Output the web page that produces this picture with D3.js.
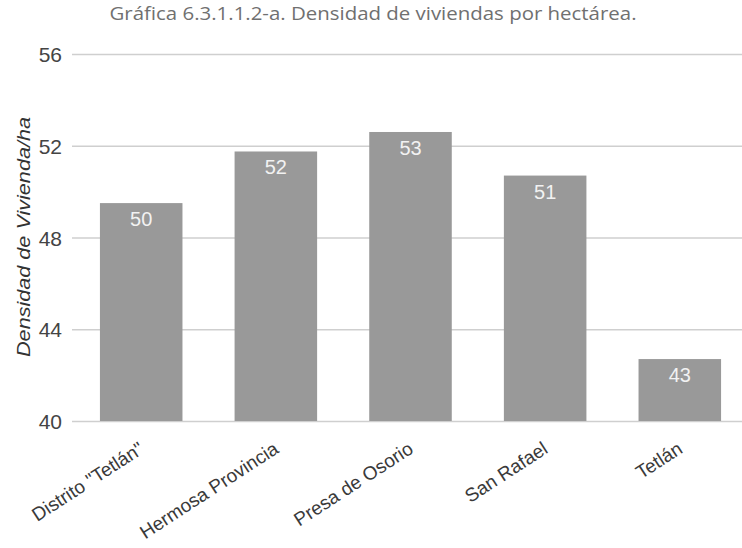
<!DOCTYPE html>
<html>
<head>
<meta charset="utf-8">
<script src="https://cdn.jsdelivr.net/npm/d3@7"></script>
<style>
  html, body { margin: 0; padding: 0; background: #fff; }
  svg { display: block; }
</style>
</head>
<body>
<script>
// Housing density per hectare by area
const categories = ["Distrito \"Tetlán\"", "Hermosa Provincia", "Presa de Osorio", "San Rafael", "Tetlán"];
const density = [49.5, 51.75, 52.6, 50.7, 42.7];
const yTicks = [40, 44, 48, 52, 56];
const titleText = "Gráfica 6.3.1.1.2-a. Densidad de viviendas por hectárea.";
const yAxisTitle = "Densidad de Vivienda/ha";

const W = 742, H = 548;
const svg = d3.select("body").append("svg").attr("width", W).attr("height", H);

const x = d3.scaleBand()
  .domain(categories)
  .range([73, 748])
  .paddingInner(0.387)
  .paddingOuter(0.2);

const y = d3.scaleLinear().domain([40, 56]).range([421, 54]);

// Title
svg.append("text")
  .attr("x", 373).attr("y", 20)
  .attr("text-anchor", "middle")
  .attr("font-family", "'Open Sans', sans-serif")
  .attr("font-size", 18)
  .attr("textLength", 527)
  .attr("lengthAdjust", "spacingAndGlyphs")
  .attr("fill", "#707070")
  .text(titleText);

// Gridlines + y tick labels
const yAxis = d3.axisLeft(y).tickValues(yTicks).tickSize(-(W - 72)).tickPadding(10);
const gy = svg.append("g").attr("transform", "translate(72,0)").call(yAxis);
gy.select(".domain").remove();
gy.selectAll(".tick line").attr("stroke", "#cfcfcf").attr("stroke-width", 1.5);
gy.selectAll(".tick text")
  .attr("font-family", "'Liberation Sans', Arial, sans-serif")
  .attr("font-size", 21)
  .attr("fill", "#444")
  .attr("dy", "0.36em");

// Bars
svg.append("g").selectAll("rect")
  .data(categories)
  .join("rect")
  .attr("x", d => x(d))
  .attr("width", x.bandwidth())
  .attr("y", (d, i) => y(density[i]))
  .attr("height", (d, i) => y(40) - y(density[i]))
  .attr("fill", "#999999");

// Value labels inside bars
const fmt = d3.format(".0f");
svg.append("g").selectAll("text")
  .data(categories)
  .join("text")
  .attr("x", d => x(d) + x.bandwidth() / 2)
  .attr("y", (d, i) => y(density[i]) + 23)
  .attr("text-anchor", "middle")
  .attr("font-family", "'Liberation Sans', Arial, sans-serif")
  .attr("font-size", 20)
  .attr("fill", "#f2f2f2")
  .text((d, i) => fmt(density[i]));

// Category labels, rotated
const xAxis = d3.axisBottom(x).tickSize(0).tickPadding(0);
const gx = svg.append("g").attr("transform", "translate(0,421)").call(xAxis);
gx.select(".domain").remove();
gx.selectAll(".tick text")
  .attr("font-family", "'Liberation Sans', Arial, sans-serif")
  .attr("font-size", 19)
  .attr("fill", "#3a3a3a")
  .attr("text-anchor", "end")
  .attr("y", 0).attr("dy", 0)
  .attr("transform", "translate(4,31) rotate(-33)");

// Y axis title
svg.append("text")
  .attr("transform", "translate(30,237) rotate(-90)")
  .attr("text-anchor", "middle")
  .attr("font-family", "'Liberation Sans', Arial, sans-serif")
  .attr("font-style", "italic")
  .attr("font-size", 18)
  .attr("textLength", 240)
  .attr("lengthAdjust", "spacingAndGlyphs")
  .attr("fill", "#333")
  .text(yAxisTitle);
</script>
</body>
</html>
